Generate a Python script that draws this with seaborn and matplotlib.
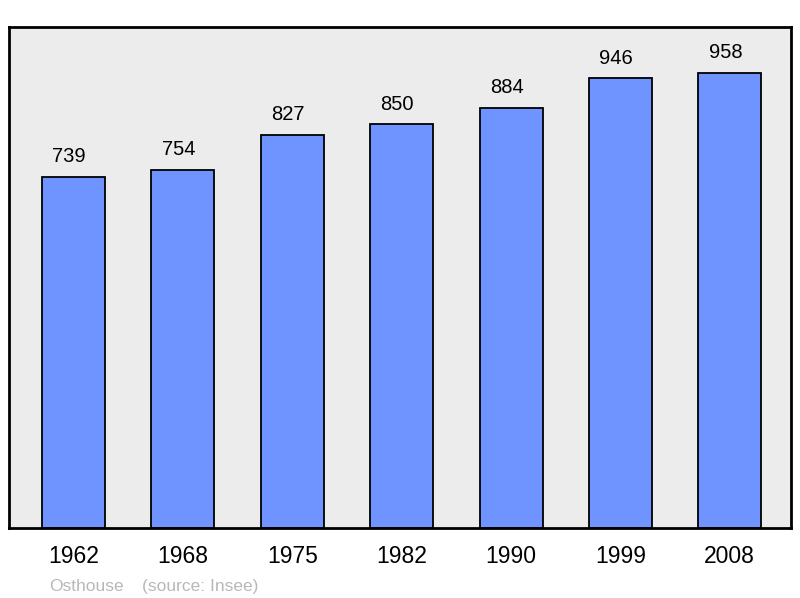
import matplotlib
matplotlib.use("Agg")
import matplotlib.pyplot as plt
import seaborn as sns
import pandas as pd

years = ["1962", "1968", "1975", "1982", "1990", "1999", "2008"]
population = [739, 754, 827, 850, 884, 946, 958]
commune = "Osthouse"
source = "(source: Insee)"

sns.set_style("white")
plt.rcParams['font.family'] = ['Liberation Sans', 'DejaVu Sans']
plt.rcParams['text.color'] = 'black'
plt.rcParams['xtick.color'] = 'black'

df = pd.DataFrame({"year": years, "pop": population})

fig = plt.figure(figsize=(8, 5.98), dpi=100)
ax = fig.add_axes([9/800, 70/598, 782/800, 501/598])
ax.set_facecolor("#ececec")

sns.barplot(data=df, x="year", y="pop", ax=ax, color="#7094ff", saturation=1,
            width=0.576, edgecolor="black", linewidth=1.3)

ax.set_xlim(-0.59, 6.56)
ax.set_ylim(0, 1054)
ax.set_yticks([])
ax.set_xlabel("")
ax.set_ylabel("")
ax.tick_params(axis="x", length=0, pad=12, labelsize=16.5, labelcolor="black")
for s in ax.spines.values():
    s.set_linewidth(2)
    s.set_color("black")

for i, v in enumerate(population):
    ax.text(i - 0.04, v + 22, str(v), ha="center", va="bottom", fontsize=14.5, color="black")

fig.text(49/800, 1 - 591/598, commune, fontsize=12.5, color="#b8b8b8", ha="left", va="baseline")
fig.text(142/800, 1 - 591/598, source, fontsize=12.5, color="#b8b8b8", ha="left", va="baseline")

fig.savefig("out.png", dpi=100)
